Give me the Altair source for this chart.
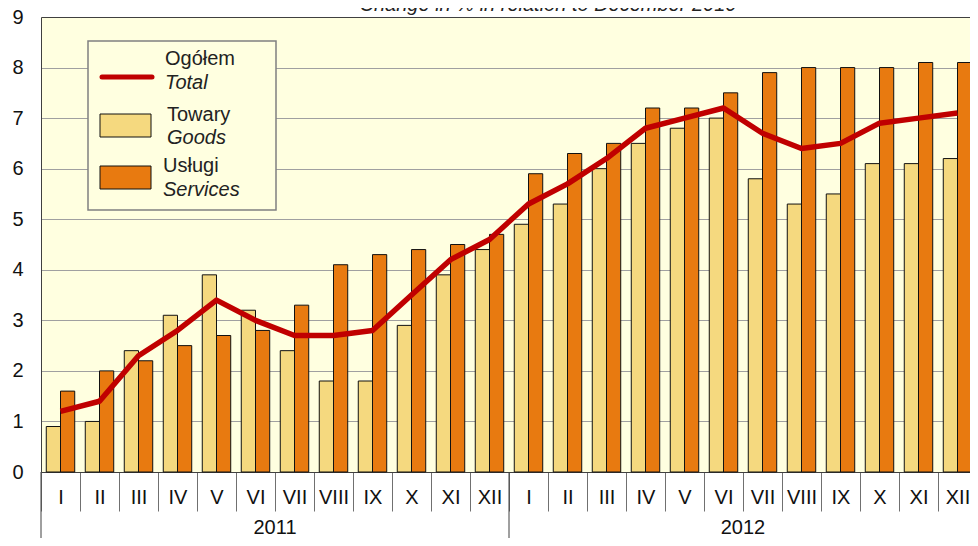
import altair as alt
import pandas as pd

# ---- data ----
years = ["2011", "2012"]
months = ["I", "II", "III", "IV", "V", "VI", "VII", "VIII", "IX", "X", "XI", "XII"]
goods = [0.9, 1.0, 2.4, 3.1, 3.9, 3.2, 2.4, 1.8, 1.8, 2.9, 3.9, 4.4,
         4.9, 5.3, 6.0, 6.5, 6.8, 7.0, 5.8, 5.3, 5.5, 6.1, 6.1, 6.2]
services = [1.6, 2.0, 2.2, 2.5, 2.7, 2.8, 3.3, 4.1, 4.3, 4.4, 4.5, 4.7,
            5.9, 6.3, 6.5, 7.2, 7.2, 7.5, 7.9, 8.0, 8.0, 8.0, 8.1, 8.1]
total = [1.2, 1.4, 2.3, 2.8, 3.4, 3.0, 2.7, 2.7, 2.8, 3.5, 4.2, 4.6,
         5.3, 5.7, 6.2, 6.8, 7.0, 7.2, 6.7, 6.4, 6.5, 6.9, 7.0, 7.1]
title_text = "Change in % in relation to December 2010"

keys = [f"{y} {m}" for y in years for m in months]

bars_df = pd.DataFrame({
    "key": keys * 2,
    "series": ["Towary"] * 24 + ["Usługi"] * 24,
    "value": goods + services,
})
line_df = pd.DataFrame({"key": keys, "value": total})
year_df = pd.DataFrame({"year": years, "mid": [f"{y} VII" for y in years],
                        "start": [f"{y} I" for y in years]})

C_GOODS = "#F5D97F"
C_SERV = "#E87A10"
C_LINE = "#C00000"
BG = "#FFFFE0"
FONT = "Liberation Sans"
H = 455

# the reference's plot area runs a little past the right edge of the picture
xscale = alt.Scale(domain=keys, range=[0, 936], paddingInner=0, paddingOuter=0)
yscale = alt.Scale(domain=[0, 9], nice=False)

x_axis = alt.Axis(
    title=None, labelExpr="split(datum.value, ' ')[1]", labelAngle=0,
    tickBand="extent", tickSize=39, tickColor="#707070", tickWidth=1,
    labelFontSize=20, labelFont=FONT, labelColor="#111", labelPadding=-14,
    labelBaseline="middle", domainColor="#404040", domainWidth=1, grid=False,
)
y_axis = alt.Axis(
    title=None, values=list(range(10)), labelFontSize=20, labelFont=FONT,
    labelColor="#111", labelPadding=18, ticks=False, domainColor="#404040",
    gridColor=alt.condition("datum.value == 9", alt.value("#404040"), alt.value("#A0A0A0")),
    gridWidth=1,
)

bars = alt.Chart(bars_df).mark_bar(stroke="#111", strokeWidth=1).encode(
    x=alt.X("key:N", scale=xscale, axis=x_axis, sort=keys),
    xOffset=alt.XOffset("series:N", scale=alt.Scale(paddingOuter=0.37, paddingInner=0)),
    y=alt.Y("value:Q", scale=yscale, axis=y_axis),
    color=alt.Color("series:N", scale=alt.Scale(domain=["Towary", "Usługi"], range=[C_GOODS, C_SERV]), legend=None),
)

line = alt.Chart(line_df).mark_line(color=C_LINE, strokeWidth=5.5, strokeJoin="round").encode(
    x=alt.X("key:N", scale=xscale, sort=keys),
    y=alt.Y("value:Q", scale=yscale),
)

year_rules = alt.Chart(year_df).mark_rule(color="#404040", strokeWidth=1).encode(
    x=alt.X("start:N", scale=xscale, sort=keys, bandPosition=0),
    y=alt.value(H), y2=alt.value(530),
)
year_labels = alt.Chart(year_df).mark_text(fontSize=20, font=FONT, color="#111", baseline="middle").encode(
    x=alt.X("mid:N", scale=xscale, sort=keys, bandPosition=0),
    y=alt.value(511),
    text="year:N",
)

title = alt.Chart(pd.DataFrame({"t": [title_text]})).mark_text(
    fontSize=20, font=FONT, fontStyle="italic", color="#222", baseline="alphabetic", align="center"
).encode(x=alt.value(507), y=alt.value(-6), text="t:N")

# ---- custom legend ----
leg_box = alt.Chart(pd.DataFrame({"a": [0]})).mark_rect(fill=BG, stroke="#808080", strokeWidth=1.5).encode(
    x=alt.value(47), x2=alt.value(235), y=alt.value(24), y2=alt.value(193))
leg_line = alt.Chart(pd.DataFrame({"a": [0]})).mark_rule(color=C_LINE, strokeWidth=5, strokeCap="round").encode(
    x=alt.value(61), x2=alt.value(111), y=alt.value(60))
leg_sw = alt.Chart(pd.DataFrame({"y": [97, 149], "c": [C_GOODS, C_SERV]})).mark_rect(stroke="#111", strokeWidth=1).encode(
    x=alt.value(59), x2=alt.value(110), y=alt.Y("y:Q", scale=None), y2=alt.Y2("y2:Q"),
    fill=alt.Color("c:N", scale=None)).transform_calculate(y2="datum.y + 23")
leg_pl = alt.Chart(pd.DataFrame({"t": ["Ogółem", "Towary", "Usługi"], "x": [124, 126, 122], "y": [42, 98, 149]})).mark_text(
    fontSize=20, font=FONT, color="#222", align="left", baseline="middle").encode(
    x=alt.X("x:Q", scale=None), y=alt.Y("y:Q", scale=None), text="t:N")
leg_en = alt.Chart(pd.DataFrame({"t": ["Total", "Goods", "Services"], "x": [124, 126, 122], "y": [66, 121, 173]})).mark_text(
    fontSize=20, font=FONT, fontStyle="italic", color="#222", align="left", baseline="middle").encode(
    x=alt.X("x:Q", scale=None), y=alt.Y("y:Q", scale=None), text="t:N")

chart = alt.layer(
    bars, line, year_rules, year_labels, title, leg_box, leg_line, leg_sw, leg_pl, leg_en
).properties(
    width=929, height=H,
    autosize=alt.AutoSizeParams(type="none"),
    padding={"left": 33, "top": 9, "right": 0, "bottom": 66},
    background="white",
).configure_view(fill=BG, stroke=None)

chart.save("out.html", embed_options={"renderer": "svg", "actions": False})
